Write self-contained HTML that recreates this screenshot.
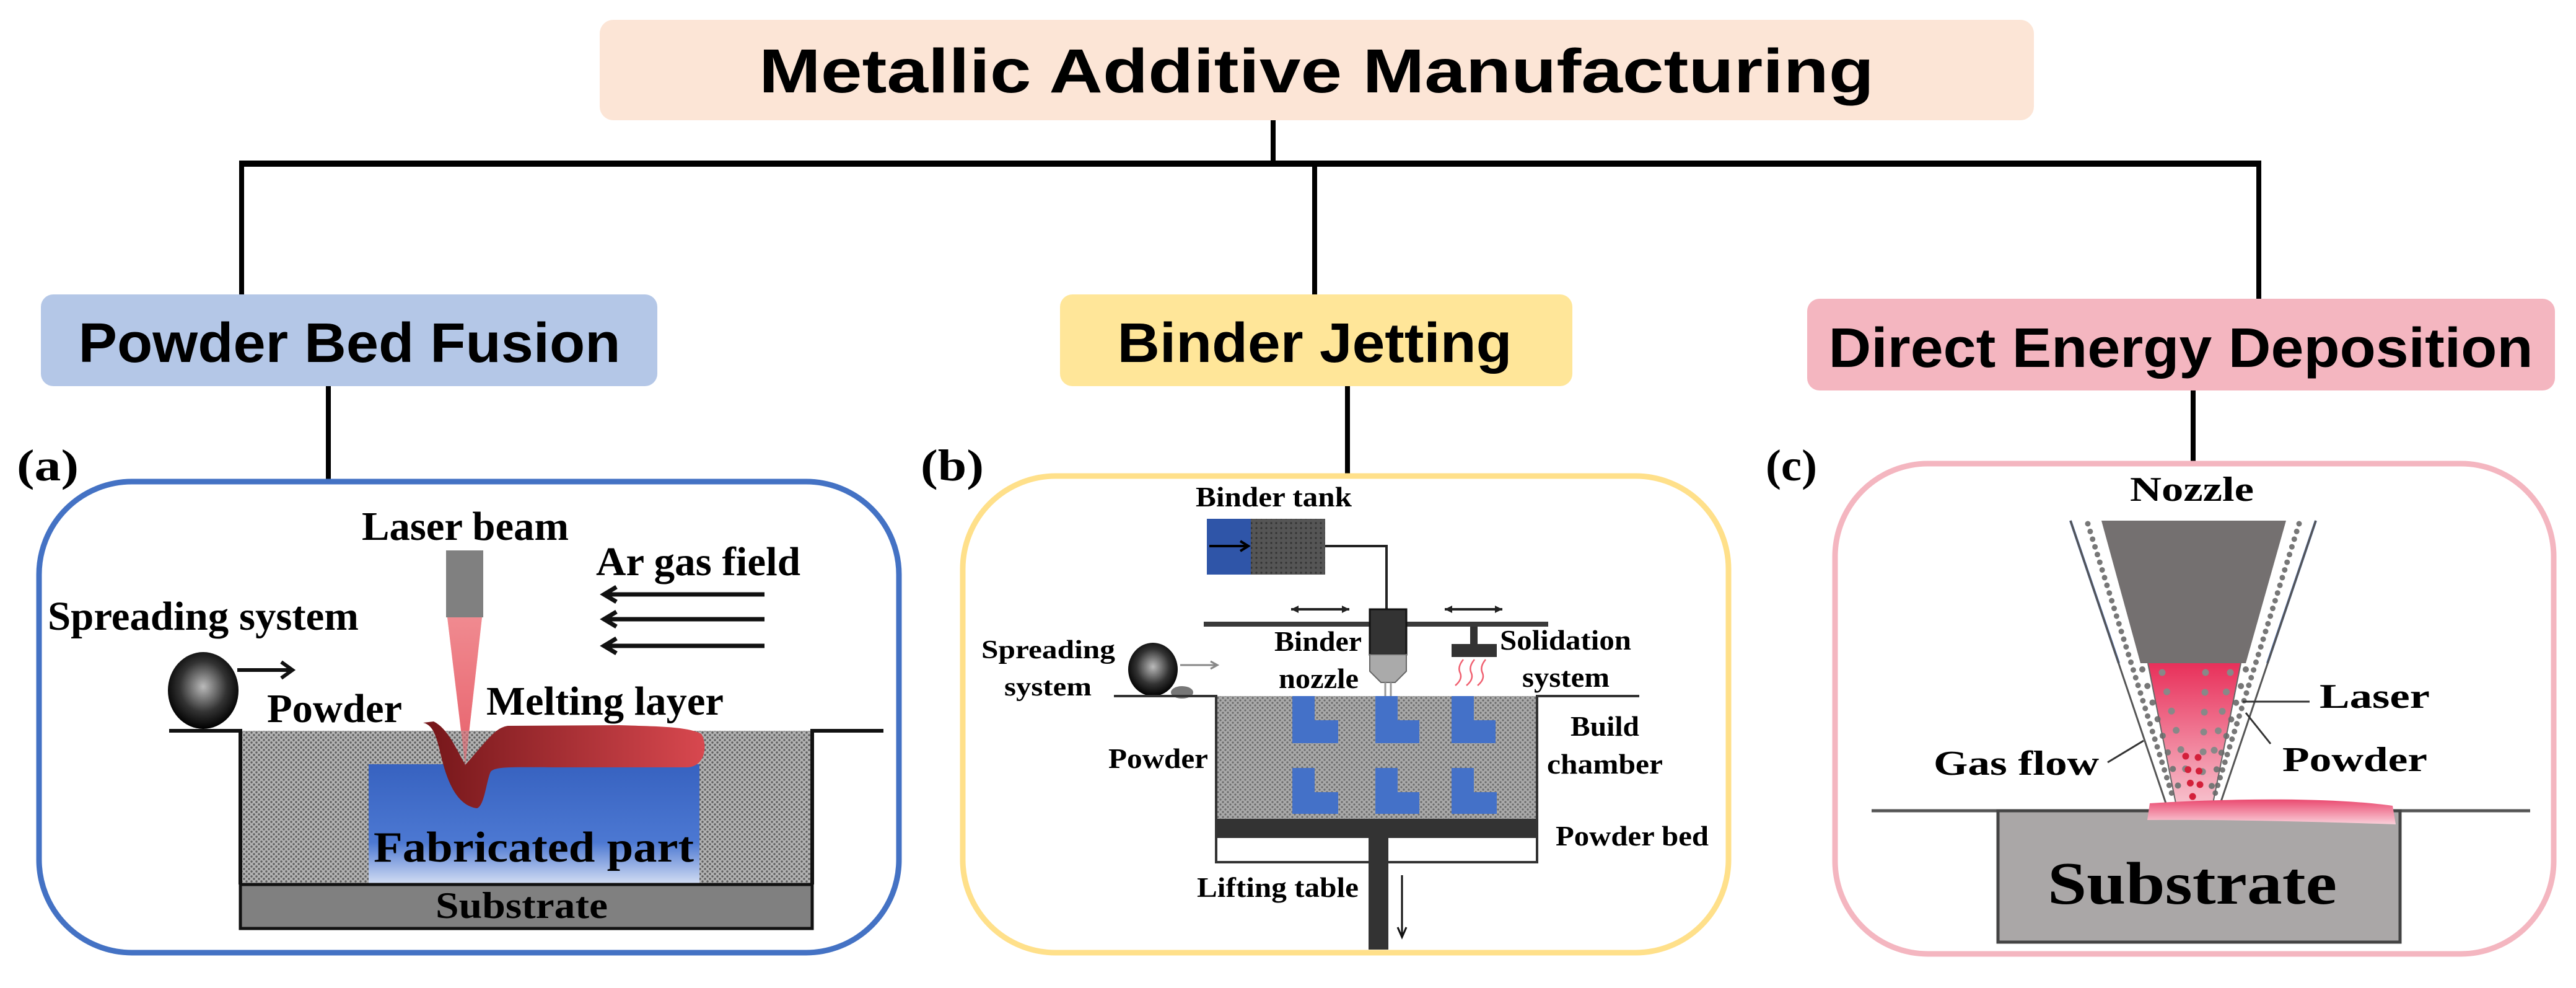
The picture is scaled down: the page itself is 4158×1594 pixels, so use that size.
<!DOCTYPE html>
<html><head><meta charset="utf-8"><style>
html,body{margin:0;padding:0;background:#fff;}
svg{display:block;}
.h{font-family:"Liberation Sans",sans-serif;font-weight:bold;fill:#000;}
.t{font-family:"Liberation Serif",serif;font-weight:bold;fill:#000;}
</style></head><body>
<svg width="4158" height="1594" viewBox="0 0 4158 1594" xmlns="http://www.w3.org/2000/svg">
<defs>
<pattern id="pw" width="8" height="8" patternUnits="userSpaceOnUse">
<rect width="8" height="8" fill="#b2b2b2"/><circle cx="2" cy="2" r="1.7" fill="#5e5e5e"/><circle cx="6" cy="6" r="1.7" fill="#5e5e5e"/>
</pattern>
<pattern id="pw2" width="8" height="8" patternUnits="userSpaceOnUse">
<rect width="8" height="8" fill="#a9a9a9"/><circle cx="2" cy="2" r="1.6" fill="#6a6a6a"/><circle cx="6" cy="6" r="1.6" fill="#6a6a6a"/>
</pattern>
<pattern id="pw3" width="8" height="8" patternUnits="userSpaceOnUse">
<rect width="8" height="8" fill="#555"/><circle cx="4" cy="4" r="1.6" fill="#333"/>
</pattern>
<linearGradient id="fab" x1="0" y1="0" x2="0" y2="1">
<stop offset="0" stop-color="#3762c0"/><stop offset="0.65" stop-color="#4c78d2"/><stop offset="1" stop-color="#d4def3"/>
</linearGradient>
<linearGradient id="melt" x1="0" y1="0" x2="1" y2="0">
<stop offset="0" stop-color="#741619"/><stop offset="1" stop-color="#d8484f"/>
</linearGradient>
<linearGradient id="beam" x1="0" y1="0" x2="0" y2="1">
<stop offset="0" stop-color="#f08a90"/><stop offset="1" stop-color="#e7606a"/>
</linearGradient>
<radialGradient id="ball" cx="0.5" cy="0.45" r="0.55">
<stop offset="0" stop-color="#bbb"/><stop offset="0.6" stop-color="#333"/><stop offset="1" stop-color="#000"/>
</radialGradient>
<linearGradient id="las" x1="0" y1="0" x2="0" y2="1">
<stop offset="0" stop-color="#e8305a"/><stop offset="1" stop-color="#f7c0cc"/>
</linearGradient>
<linearGradient id="dep" x1="0" y1="0" x2="0" y2="1">
<stop offset="0" stop-color="#ea4a70"/><stop offset="1" stop-color="#fad0da"/>
</linearGradient>
</defs>

<rect x="968" y="32" width="2315" height="162" rx="22" fill="#fce5d6"/>
<text class="h" x="2125" y="149" font-size="100" text-anchor="middle" textLength="1800" lengthAdjust="spacingAndGlyphs">Metallic Additive Manufacturing</text>
<line x1="2055" y1="194" x2="2055" y2="266" stroke="#000" stroke-width="8"/>
<line x1="386" y1="264" x2="3650" y2="264" stroke="#000" stroke-width="10"/>
<line x1="390" y1="264" x2="390" y2="475" stroke="#000" stroke-width="8"/>
<line x1="2122" y1="264" x2="2122" y2="475" stroke="#000" stroke-width="8"/>
<line x1="3646" y1="264" x2="3646" y2="482" stroke="#000" stroke-width="8"/>

<rect x="66" y="475" width="995" height="148" rx="20" fill="#b4c7e7"/>
<text class="h" x="564" y="584" font-size="90" text-anchor="middle" textLength="875" lengthAdjust="spacingAndGlyphs">Powder Bed Fusion</text>
<rect x="1711" y="475" width="827" height="148" rx="20" fill="#ffe699"/>
<text class="h" x="2122" y="584" font-size="90" text-anchor="middle" textLength="637" lengthAdjust="spacingAndGlyphs">Binder Jetting</text>
<rect x="2917" y="482" width="1207" height="148" rx="20" fill="#f4b6c0"/>
<text class="h" x="3520" y="592" font-size="90" text-anchor="middle" textLength="1137" lengthAdjust="spacingAndGlyphs">Direct Energy Deposition</text>

<line x1="530" y1="623" x2="530" y2="773" stroke="#000" stroke-width="8"/>
<line x1="2175" y1="623" x2="2175" y2="764" stroke="#000" stroke-width="8"/>
<line x1="3540" y1="630" x2="3540" y2="744" stroke="#000" stroke-width="8"/>

<text class="t" x="27" y="775" font-size="72" textLength="100" lengthAdjust="spacingAndGlyphs">(a)</text>
<text class="t" x="1486" y="775" font-size="72" textLength="102" lengthAdjust="spacingAndGlyphs">(b)</text>
<text class="t" x="2850" y="775" font-size="72" textLength="83" lengthAdjust="spacingAndGlyphs">(c)</text>

<rect x="63" y="777" width="1388" height="760" rx="150" fill="#fff" stroke="#4472c4" stroke-width="9"/>
<text class="t" x="584" y="871" font-size="66" textLength="334" lengthAdjust="spacingAndGlyphs">Laser beam</text>
<text class="t" x="962" y="928" font-size="66" textLength="330" lengthAdjust="spacingAndGlyphs">Ar gas field</text>
<g stroke="#111" stroke-width="7" fill="none">
<line x1="980" y1="959" x2="1234" y2="959"/><line x1="980" y1="999" x2="1234" y2="999"/><line x1="980" y1="1042" x2="1234" y2="1042"/>
<polyline points="995,947 975,959 995,971"/><polyline points="995,987 975,999 995,1011"/><polyline points="995,1030 975,1042 995,1054"/>
</g>
<text class="t" x="77" y="1016" font-size="66" textLength="502" lengthAdjust="spacingAndGlyphs">Spreading system</text>
<rect x="720" y="888" width="60" height="108" fill="#808080"/>
<polygon points="722,996 778,996 751,1236" fill="url(#beam)"/>
<rect x="388" y="1179" width="923" height="248" fill="url(#pw)"/>
<rect x="595" y="1233" width="534" height="194" fill="url(#fab)"/>
<path d="M683,1166 C700,1170 705,1190 712,1220 C722,1262 738,1300 770,1304 C782,1300 785,1260 792,1245 C800,1236 830,1238 900,1238 L1110,1238 C1140,1236 1142,1200 1132,1184 C1110,1172 1060,1172 1000,1170 L820,1171 C800,1174 790,1190 751,1234 C735,1205 722,1175 700,1164 Z" fill="url(#melt)"/>
<polygon points="722,996 778,996 751,1236" fill="url(#beam)" opacity="0.6"/>
<rect x="388" y="1427" width="923" height="71" fill="#808080" stroke="#111" stroke-width="5"/>
<polyline points="273,1179 388,1179 388,1427" fill="none" stroke="#111" stroke-width="6"/>
<polyline points="1426,1179 1311,1179 1311,1427" fill="none" stroke="#111" stroke-width="6"/>
<ellipse cx="328" cy="1114" rx="57" ry="62" fill="url(#ball)"/>
<line x1="383" y1="1081" x2="470" y2="1081" stroke="#111" stroke-width="6"/>
<polyline points="454,1068 472,1081 454,1094" fill="none" stroke="#111" stroke-width="6"/>
<text class="t" x="431" y="1165" font-size="66" textLength="218" lengthAdjust="spacingAndGlyphs">Powder</text>
<text class="t" x="785" y="1153" font-size="66" textLength="383" lengthAdjust="spacingAndGlyphs">Melting layer</text>
<text class="t" x="603" y="1390" font-size="70" textLength="517" lengthAdjust="spacingAndGlyphs">Fabricated part</text>
<text class="t" x="703" y="1481" font-size="60" textLength="278" lengthAdjust="spacingAndGlyphs">Substrate</text>

<rect x="1554" y="768" width="1236" height="769" rx="150" fill="#fff" stroke="#ffe08a" stroke-width="9"/>
<text class="t" x="1930" y="817" font-size="46" textLength="252" lengthAdjust="spacingAndGlyphs">Binder tank</text>
<rect x="1948" y="837" width="71" height="90" fill="#2f55a8"/>
<rect x="2019" y="837" width="120" height="90" fill="url(#pw3)"/>
<line x1="1952" y1="881" x2="2012" y2="881" stroke="#000" stroke-width="4"/>
<polyline points="2002,873 2015,881 2002,889" fill="none" stroke="#000" stroke-width="4"/>
<polyline points="2139,881 2238,881 2238,983" fill="none" stroke="#222" stroke-width="4"/>
<rect x="1943" y="1003" width="556" height="8" fill="#3a3a3a"/>
<g stroke="#222" stroke-width="4"><line x1="2084" y1="983" x2="2178" y2="983"/><line x1="2332" y1="983" x2="2425" y2="983"/></g>
<g fill="#222"><polygon points="2084,983 2096,977 2096,989"/><polygon points="2178,983 2166,977 2166,989"/><polygon points="2332,983 2344,977 2344,989"/><polygon points="2425,983 2413,977 2413,989"/></g>
<rect x="2211" y="983" width="59" height="73" fill="#333" stroke="#111" stroke-width="3"/>
<path d="M2211,1056 L2270,1056 L2270,1083 L2252,1101 L2229,1101 L2211,1083 Z" fill="#aaa" stroke="#666" stroke-width="2"/>
<line x1="2236" y1="1101" x2="2236" y2="1125" stroke="#999" stroke-width="3"/><line x1="2245" y1="1101" x2="2245" y2="1125" stroke="#999" stroke-width="3"/>
<rect x="2373" y="1011" width="12" height="28" fill="#333"/>
<rect x="2343" y="1039" width="73" height="21" fill="#333"/>
<g stroke="#f06070" stroke-width="2.5" fill="none"><path d="M2362,1064 q-10,12 -5,22 q4,10 -8,20"/><path d="M2380,1064 q-10,12 -5,22 q4,10 -8,20"/><path d="M2398,1064 q-10,12 -5,22 q4,10 -8,20"/></g>
<text class="t" x="2421" y="1048" font-size="46" textLength="212" lengthAdjust="spacingAndGlyphs">Solidation</text>
<text class="t" x="2457" y="1108" font-size="46" textLength="141" lengthAdjust="spacingAndGlyphs">system</text>
<text class="t" x="2057" y="1050" font-size="46" textLength="141" lengthAdjust="spacingAndGlyphs">Binder</text>
<text class="t" x="2064" y="1110" font-size="46" textLength="129" lengthAdjust="spacingAndGlyphs">nozzle</text>
<text class="t" x="1584" y="1062" font-size="42" textLength="216" lengthAdjust="spacingAndGlyphs">Spreading</text>
<text class="t" x="1621" y="1122" font-size="42" textLength="141" lengthAdjust="spacingAndGlyphs">system</text>
<ellipse cx="1908" cy="1117" rx="18" ry="10" fill="#777"/>
<ellipse cx="1861" cy="1080" rx="40" ry="43" fill="url(#ball)"/>
<line x1="1905" y1="1073" x2="1962" y2="1073" stroke="#888" stroke-width="3"/>
<polyline points="1954,1067 1965,1073 1954,1079" fill="none" stroke="#888" stroke-width="3"/>
<rect x="1963" y="1123" width="518" height="198" fill="url(#pw2)"/>
<g fill="#4471c8">
<path d="M2086,1123 h36 v39 h38 v37 h-74 Z"/><path d="M2220,1123 h36 v39 h35 v37 h-71 Z"/><path d="M2343,1123 h36 v39 h35 v37 h-71 Z"/>
<path d="M2086,1239 h36 v39 h38 v35 h-74 Z"/><path d="M2220,1239 h36 v39 h35 v35 h-71 Z"/><path d="M2343,1239 h36 v39 h37 v35 h-73 Z"/>
</g>
<polyline points="1798,1123 1963,1123 1963,1391 2481,1391 2481,1123 2646,1123" fill="none" stroke="#333" stroke-width="4"/>
<rect x="1963" y="1321" width="518" height="31" fill="#333"/>
<rect x="2209" y="1352" width="32" height="180" fill="#333"/>
<line x1="2263" y1="1412" x2="2263" y2="1508" stroke="#111" stroke-width="3"/>
<polyline points="2256,1496 2263,1512 2270,1496" fill="none" stroke="#111" stroke-width="3"/>
<text class="t" x="2535" y="1187" font-size="46" textLength="111" lengthAdjust="spacingAndGlyphs">Build</text>
<text class="t" x="2497" y="1248" font-size="46" textLength="187" lengthAdjust="spacingAndGlyphs">chamber</text>
<text class="t" x="2511" y="1364" font-size="46" textLength="247" lengthAdjust="spacingAndGlyphs">Powder bed</text>
<text class="t" x="1789" y="1239" font-size="46" textLength="161" lengthAdjust="spacingAndGlyphs">Powder</text>
<text class="t" x="1932" y="1447" font-size="46" textLength="261" lengthAdjust="spacingAndGlyphs">Lifting table</text>

<rect x="2962" y="748" width="1160" height="791" rx="150" fill="#fff" stroke="#f4b6c0" stroke-width="9"/>
<text class="t" x="3438" y="808" font-size="56" textLength="200" lengthAdjust="spacingAndGlyphs">Nozzle</text>
<polygon points="3342,840 3738,840 3660,1070 3420,1070" fill="#fff"/>
<polygon points="3392,840 3690,840 3625,1070 3455,1070" fill="#747070"/>
<line x1="3342" y1="840" x2="3420" y2="1070" stroke="#4466aa" stroke-width="4"/>
<line x1="3738" y1="840" x2="3660" y2="1070" stroke="#4466aa" stroke-width="4"/>
<polygon points="3467,1070 3617,1070 3572,1296 3512,1296" fill="url(#las)"/>
<g fill="none" stroke-linecap="round">
<line x1="3370" y1="845" x2="3506" y2="1282" stroke="#777" stroke-width="9" stroke-dasharray="0 13"/>
<line x1="3711" y1="845" x2="3575" y2="1282" stroke="#777" stroke-width="9" stroke-dasharray="0 13"/>
<line x1="3458" y1="1080" x2="3520" y2="1282" stroke="#777" stroke-width="10" stroke-dasharray="0 28"/>
<line x1="3625" y1="1080" x2="3566" y2="1282" stroke="#777" stroke-width="10" stroke-dasharray="0 28"/>
<line x1="3490" y1="1085" x2="3530" y2="1250" stroke="#888" stroke-width="11" stroke-dasharray="0 32"/>
<line x1="3560" y1="1085" x2="3555" y2="1250" stroke="#888" stroke-width="11" stroke-dasharray="0 32"/>
<line x1="3600" y1="1085" x2="3570" y2="1230" stroke="#888" stroke-width="11" stroke-dasharray="0 32"/>
<line x1="3528" y1="1220" x2="3540" y2="1290" stroke="#d3203a" stroke-width="11" stroke-dasharray="0 22"/>
<line x1="3548" y1="1222" x2="3552" y2="1280" stroke="#d3203a" stroke-width="11" stroke-dasharray="0 22"/>
</g>
<line x1="3342" y1="840" x2="3496" y2="1296" stroke="#555" stroke-width="3"/>
<line x1="3738" y1="840" x2="3584" y2="1296" stroke="#555" stroke-width="3"/>
<line x1="3467" y1="1070" x2="3512" y2="1296" stroke="#666" stroke-width="2"/>
<line x1="3617" y1="1070" x2="3572" y2="1296" stroke="#666" stroke-width="2"/>
<line x1="3021" y1="1308" x2="4084" y2="1308" stroke="#555" stroke-width="5"/>
<rect x="3225" y="1308" width="649" height="212" fill="#aaa7a7" stroke="#444" stroke-width="5"/>
<path d="M3470,1296 C3600,1288 3760,1286 3862,1300 L3867,1330 C3750,1326 3600,1322 3466,1323 Z" fill="url(#dep)"/>
<text class="t" x="3305" y="1458" font-size="98" textLength="467" lengthAdjust="spacingAndGlyphs">Substrate</text>
<text class="t" x="3744" y="1142" font-size="56" textLength="178" lengthAdjust="spacingAndGlyphs">Laser</text>
<line x1="3620" y1="1132" x2="3728" y2="1132" stroke="#333" stroke-width="3"/>
<text class="t" x="3684" y="1244" font-size="56" textLength="234" lengthAdjust="spacingAndGlyphs">Powder</text>
<line x1="3625" y1="1150" x2="3665" y2="1200" stroke="#333" stroke-width="3"/>
<text class="t" x="3121" y="1250" font-size="56" textLength="267" lengthAdjust="spacingAndGlyphs">Gas flow</text>
<line x1="3402" y1="1230" x2="3460" y2="1195" stroke="#333" stroke-width="3"/>
</svg>
</body></html>
